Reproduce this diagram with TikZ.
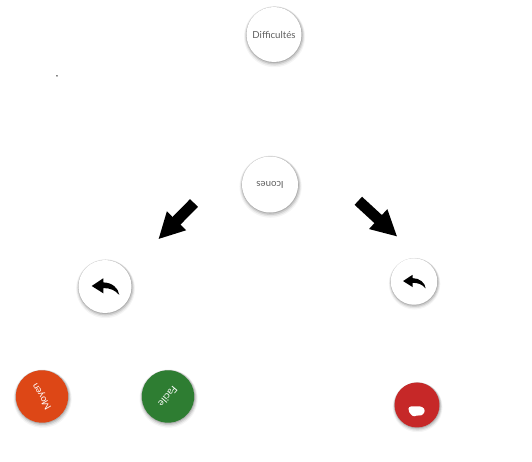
\documentclass[tikz,border=0pt]{standalone}
\usepackage{fontspec}
\setmainfont{Lato}
\usepackage{xcolor}
\usetikzlibrary{arrows.meta, shadows}
\definecolor{cOrange}{RGB}{221,71,22}
\definecolor{cGreen}{RGB}{46,125,50}
\definecolor{cRed}{RGB}{198,40,40}
\definecolor{cText}{RGB}{95,95,95}
\tikzset{
	softshadow/.style={
		general shadow={shadow xshift=0.01cm, shadow yshift=-0.04cm, shadow scale=1.11, fill=black, opacity=0.04},
		general shadow={shadow xshift=0.01cm, shadow yshift=-0.03cm, shadow scale=1.08, fill=black, opacity=0.07},
		general shadow={shadow xshift=0.01cm, shadow yshift=-0.02cm, shadow scale=1.05, fill=black, opacity=0.10},
		general shadow={shadow xshift=0.005cm, shadow yshift=-0.01cm, shadow scale=1.02, fill=black, opacity=0.14}},
	badge/.style   ={circle, inner sep=0pt, fill=white, text=cText, font=\fontsize{5.5}{7}\selectfont, softshadow},
	colorbadge/.style={badge, text=white},
	bigarrow/.style={-{Triangle[length=0.52cm, width=0.50cm]}, line width=0.22cm, black},
	replyicon/.pic={
		\fill[black] (-0.266,0.01) -- (-0.034,0.164) -- (-0.034,0.082)
			.. controls (0.14,0.08) and (0.27,-0.03) .. (0.286,-0.17)
			.. controls (0.20,-0.07) and (0.10,-0.03) .. (-0.034,-0.032)
			-- (-0.034,-0.136) -- cycle;
	},
}
\begin{document}
\begin{tikzpicture}
	\useasboundingbox (0,0) rectangle (10.64,9.24);
	\node[badge, minimum size=1.10cm] (diff) at (5.48,8.55) {Difficultés};
	\node[badge, minimum size=1.12cm, rotate=180] (icones) at (5.40,5.55) {Icones};
	\node[badge, minimum size=1.06cm] (lft) at (2.10,3.51) {};
	\node[badge, minimum size=0.93cm] (rgt) at (8.28,3.61) {};
	\node[colorbadge, fill=cOrange, minimum size=1.05cm, rotate=120] (moyen) at (0.84,1.31) {Moyen};
	\node[colorbadge, fill=cGreen, minimum size=1.05cm, rotate=230] (facile) at (3.36,1.31) {Facile};
	\node[colorbadge, fill=cRed, minimum size=0.90cm] (dur) at (8.34,1.14) {};
	\node[circle, fill=black, inner sep=0pt, minimum size=0.03cm] (dot) at (1.14,7.72) {};
	\pic at (lft) {replyicon};
	\pic[scale=0.82] at (rgt) {replyicon};
	% white mark on the red badge
	\fill[white, rounded corners=0.05cm] ([shift={(-0.17,-0.03)}]dur.center) -- ++(0.28,0) -- ++(0.06,-0.09) -- ++(-0.08,-0.10) -- ++(-0.10,0.02) -- ++(-0.06,-0.04) -- ++(-0.06,0.06) -- ++(-0.04,0.06) -- cycle;
	% big arrows
	\coordinate (la) at (3.88,5.18);
	\coordinate (lb) at (3.166,4.454);
	\coordinate (ra) at (7.166,5.224);
	\coordinate (rb) at (7.946,4.506);
	\draw[bigarrow] (la) -- (lb);
	\draw[bigarrow] (ra) -- (rb);
\end{tikzpicture}
\end{document}
